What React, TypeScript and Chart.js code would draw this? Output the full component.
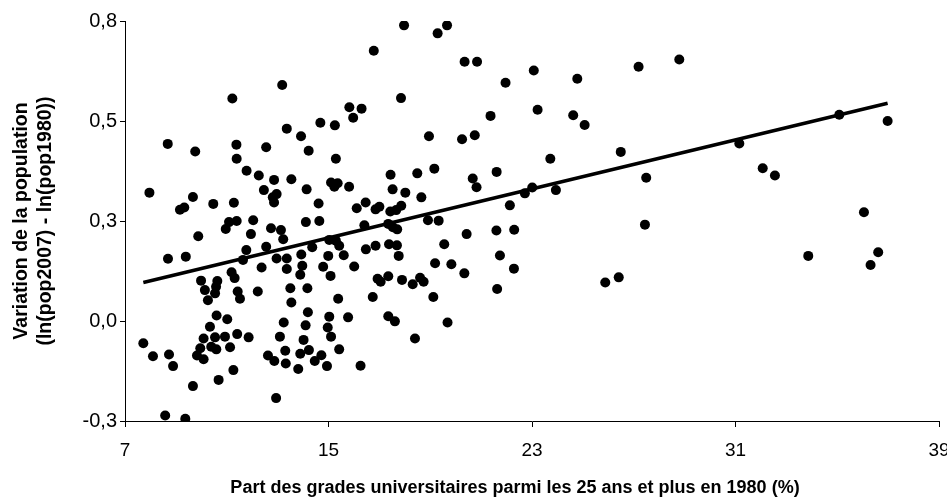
import React, { useEffect, useRef } from "react";
import { Chart, registerables } from "chart.js";

Chart.register(...registerables);

// Part des grades universitaires (%) — x
const shareGrad: number[] = [
  13.18, 11.22, 13.36, 14.68, 13.92, 8.68, 9.76, 11.38, 12.55, 14.22,
  11.39, 11.78, 12.26, 12.86, 13.54, 7.96, 12.46, 12.96, 12.81, 12.86,
  14.14, 9.67, 9.33, 9.16, 10.47, 11.28, 14.61, 12.04, 11.09, 11.39,
  10.96, 14.11, 14.64, 12.74, 13.13, 11.95, 13.22, 9.88, 11.77, 12.55,
  14.36, 8.69, 9.39, 11.64, 12.96, 13.36, 13.93, 13.97, 13.36, 12.37,
  14.79, 14.99, 13.89, 15.08, 11.19, 11.31, 9.99, 10.63, 10.58, 10.14,
  11.43, 12.22, 13.5, 14.17,
  10.54, 11.52, 10.26, 13.54, 14.19, 10.6, 11.02, 13.24, 14.1, 15.03,
  14.97, 10.34, 7.72, 10.09, 10.54, 10.93, 11.41, 11.86, 13.09, 14.02,
  15.1, 9.96, 10.39, 10.59, 11.13, 13.3, 14.23, 8.1, 8.73, 9.83,
  10.09, 12.62, 12.87, 13.32, 13.89, 14.46, 14.72, 14.94, 13.81, 8.89,
  11.26, 10.68, 9.67, 12.94, 8.58, 9.37,
  17.97, 19.29, 19.66, 16.78, 20.35, 20.84, 21.96, 17.85, 15.82, 16.3,
  15.97, 15.25, 21.37, 18.95, 20.25, 20.75,
  15.29, 17.44, 18.49, 19.16, 21.61, 20.67, 20.82, 15.1, 15.36, 15.23,
  15.81, 17.52, 18.02, 18.65, 16.46, 16.11, 17.0, 16.85, 17.86, 17.66,
  17.43, 22.13, 16.41, 17.35, 17.53, 17.7, 18.91, 19.33, 20.43, 21.6,
  22.3, 15.03, 15.29, 15.42, 15.6, 16.85, 17.38, 17.69, 17.76, 16.47,
  19.55, 21.74, 16.01, 19.19, 19.83, 20.34, 22.29, 16.93, 17.05, 17.35,
  17.89, 18.31, 18.6, 18.74, 21.63,
  15.38, 16.74, 19.12, 15.77, 17.35, 17.61, 19.68, 18.4, 15.42, 16.26,
  23.07, 24.78, 27.19, 28.79, 23.22, 24.62, 25.07, 23.72, 26.49, 27.49,
  22.72, 23.01, 23.94, 27.44, 25.88, 26.41,
  31.15, 35.08, 36.98, 32.07, 32.55, 36.05, 33.86, 36.61, 36.31,
];

// Variation de la population ln(pop2007) - ln(pop1980) — y
const popChange: number[] = [
  0.624, 0.587, 0.504, 0.52, 0.483, 0.462, 0.441, 0.46, 0.453, 0.443,
  0.421, 0.388, 0.375, 0.363, 0.365, 0.328, 0.335, 0.324, 0.315, 0.301,
  0.337, 0.316, 0.287, 0.281, 0.297, 0.3, 0.298, 0.252, 0.247, 0.25,
  0.228, 0.247, 0.25, 0.23, 0.225, 0.214, 0.2, 0.208, 0.17, 0.179,
  0.178, 0.146, 0.152, 0.143, 0.147, 0.147, 0.158, 0.127, 0.118, 0.122,
  0.124, 0.154, 0.102, 0.099, 0.109, 0.093, 0.086, 0.085, 0.069, 0.06,
  0.056, 0.056, 0.065, 0.065,
  0.051, 0.036, 0.032, 0.026, -0.001, -0.01, -0.02, -0.029, -0.037, -0.013,
  -0.043, -0.041, -0.086, -0.073, -0.07, -0.068, -0.061, -0.07, -0.068, -0.077,
  -0.068, -0.1, -0.096, -0.103, -0.097, -0.107, -0.105, -0.122, -0.117, -0.12,
  -0.13, -0.12, -0.135, -0.142, -0.115, -0.135, -0.119, -0.149, -0.157, -0.149,
  -0.16, -0.187, -0.204, -0.237, -0.285, -0.294,
  0.788, 0.766, 0.788, 0.718, 0.688, 0.688, 0.63, 0.588, 0.563, 0.559,
  0.534, 0.513, 0.539, 0.483, 0.475, 0.486,
  0.421, 0.377, 0.381, 0.394, 0.385, 0.367, 0.343, 0.356, 0.354, 0.344,
  0.344, 0.337, 0.328, 0.315, 0.301, 0.285, 0.289, 0.282, 0.292, 0.28,
  0.276, 0.293, 0.238, 0.242, 0.233, 0.227, 0.252, 0.251, 0.214, 0.224,
  0.226, 0.198, 0.196, 0.182, 0.156, 0.182, 0.186, 0.183, 0.154, 0.172,
  0.186, 0.155, 0.125, 0.134, 0.131, 0.106, 0.119, 0.091, 0.083, 0.098,
  0.088, 0.076, 0.094, 0.083, 0.063,
  0.036, 0.041, 0.041, -0.015, -0.012, -0.026, -0.029, -0.073, -0.103, -0.148,
  0.664, 0.641, 0.674, 0.694, 0.556, 0.541, 0.514, 0.421, 0.44, 0.369,
  0.326, 0.342, 0.335, 0.24, 0.081, 0.095,
  0.463, 0.542, 0.525, 0.395, 0.375, 0.274, 0.154, 0.164, 0.129,
];

// Linear trend line end points
const trendX: number[] = [7.72, 36.98];
const trendY: number[] = [0.081, 0.574];

// Axis ticks
const xTickValues: number[] = [7, 15, 23, 31, 39];
const xTickLabels: string[] = ["7", "15", "23", "31", "39"];
const yTickValues: number[] = [-0.3, -0.025, 0.25, 0.525, 0.8];
const yTickLabels: string[] = ["-0,3", "0,0", "0,3", "0,5", "0,8"];

const xTitle = "Part des grades universitaires parmi les 25 ans et plus en 1980 (%)";
const yTitleLines: string[] = ["Variation de la population", "(ln(pop2007) - ln(pop1980))"];

const FONT = '"Liberation Sans", Arial, sans-serif';

export default function App() {
  const ref = useRef<HTMLCanvasElement | null>(null);

  useEffect(() => {
    if (!ref.current) return;

    const titlePlugin = {
      id: "axisTitles",
      afterDraw(chart: any) {
        const { ctx, chartArea } = chart;
        ctx.save();
        ctx.fillStyle = "#000";
        ctx.textAlign = "center";
        ctx.textBaseline = "middle";
        ctx.font = `bold 18px ${FONT}`;
        ctx.fillText(xTitle, 515, 488);
        const cy = (chartArea.top + chartArea.bottom) / 2;
        ctx.font = `bold 19.5px ${FONT}`;
        ctx.translate(22, cy);
        ctx.rotate(-Math.PI / 2);
        ctx.fillText(yTitleLines[0], 0, 0);
        ctx.fillText(yTitleLines[1], 0, 24);
        ctx.restore();
      },
    };

    const chart = new Chart(ref.current, {
      type: "scatter",
      data: {
        datasets: [
          {
            type: "line",
            data: trendX.map((x, i) => ({ x, y: trendY[i] })),
            borderColor: "#000",
            borderWidth: 3.5,
            pointRadius: 0,
            fill: false,
            tension: 0,
          } as any,
          {
            data: shareGrad.map((x, i) => ({ x, y: popChange[i] })),
            backgroundColor: "#000",
            borderColor: "#000",
            borderWidth: 0,
            pointRadius: 5,
            pointHoverRadius: 5,
          },
        ],
      },
      options: {
        responsive: false,
        animation: false,
        events: [],
        layout: { padding: { left: 0, top: 21, right: 8, bottom: 0 } },
        plugins: {
          legend: { display: false },
          tooltip: { enabled: false },
          title: { display: false },
        },
        scales: {
          x: {
            type: "linear",
            min: 7,
            max: 39,
            afterBuildTicks: (scale: any) => {
              scale.ticks = xTickValues.map((v) => ({ value: v }));
            },
            afterFit: (scale: any) => {
              scale.height = 80;
              scale.paddingLeft = 0;
              scale.paddingRight = 0;
            },
            ticks: {
              autoSkip: false,
              maxRotation: 0,
              color: "#000",
              padding: 12,
              font: { family: FONT, size: 19 },
              callback: (_v: any, i: number) => xTickLabels[i],
            },
            grid: {
              display: true,
              drawOnChartArea: false,
              drawTicks: true,
              tickLength: 6,
              color: "#000",
              lineWidth: 1,
            },
            border: { display: true, color: "#000", width: 1 },
          },
          y: {
            type: "linear",
            min: -0.3,
            max: 0.8,
            afterBuildTicks: (scale: any) => {
              scale.ticks = yTickValues.map((v) => ({ value: v }));
            },
            afterFit: (scale: any) => {
              scale.width = 125;
              scale.paddingTop = 0;
              scale.paddingBottom = 0;
            },
            ticks: {
              autoSkip: false,
              color: "#000",
              padding: 3,
              font: { family: FONT, size: 20 },
              callback: (_v: any, i: number) => yTickLabels[i],
            },
            grid: {
              display: true,
              drawOnChartArea: false,
              drawTicks: true,
              tickLength: 5,
              color: "#000",
              lineWidth: 1,
            },
            border: { display: true, color: "#000", width: 1 },
          },
        },
      },
      plugins: [titlePlugin],
    });

    return () => chart.destroy();
  }, []);

  return (
    <div style={{ position: "fixed", left: 0, top: 0, width: 947, height: 501, background: "#fff" }}>
      <canvas ref={ref} width={947} height={501} style={{ display: "block" }} />
    </div>
  );
}
